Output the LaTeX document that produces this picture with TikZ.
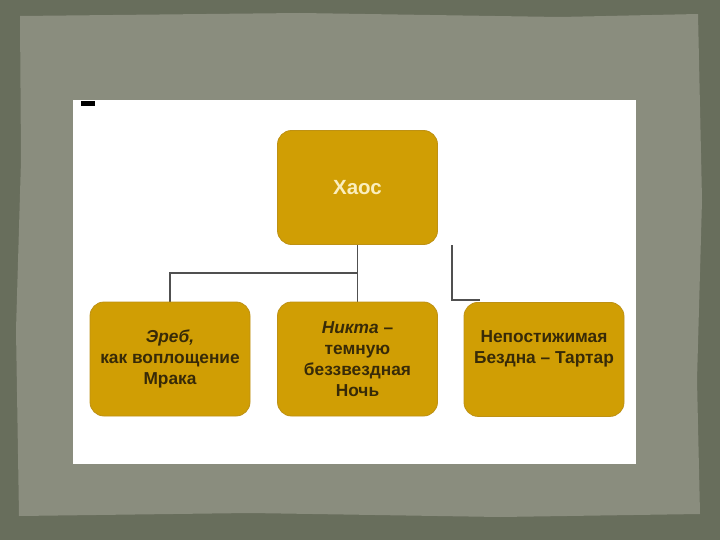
\documentclass[tikz,border=0pt]{standalone}
\usepackage{fontspec}
\setmainfont{Liberation Sans}
\definecolor{frameout}{RGB}{104,110,92}
\definecolor{panel}{RGB}{138,141,126}
\definecolor{gold}{RGB}{208,158,4}
\definecolor{goldedge}{RGB}{190,145,20}
\definecolor{darktxt}{RGB}{55,42,8}
\definecolor{lighttxt}{RGB}{250,238,190}
\definecolor{linegray}{RGB}{80,80,80}
\begin{document}
\begin{tikzpicture}[x=1pt,y=-1pt,
  box/.style={draw=goldedge,line width=0.8pt,fill=gold,rounded corners=14pt,
    minimum width=160pt,minimum height=114pt,align=center,font=\bfseries\fontsize{17.3}{21}\selectfont,text=darktxt},
  link/.style={draw=linegray,line width=1.5pt}]
\useasboundingbox (0,0) rectangle (720,540);
\fill[frameout] (0,0) rectangle (720,540);
\fill[panel] (20,16) -- (300,13) -- (560,17) -- (698,14) -- (702,200) -- (697,380) -- (700,514) -- (500,517) -- (250,513) -- (19,516) -- (16,330) -- (21,160) -- cycle;
\fill[white] (73,100) rectangle (636,464);
\fill[black] (81,101) rectangle (95,106);
\coordinate (j) at (357.5,273);
\coordinate (tr) at (480,300);
\draw[link] (357.5,245) -- (j) -| (170,302);
\draw[link] (j) -- (357.5,302);
\draw[link] (452,245) |- (tr);
\node[box,text=lighttxt,font=\bfseries\fontsize{20.5}{22}\selectfont] (chaos) at (357.5,187.5) {Хаос};
\node[box] (ereb) at (170,359) {\textit{Эреб,}\\как воплощение\\Мрака};
\node[box] (nikta) at (357.5,359) {\textit{Никта} –\\темную\\беззвездная\\Ночь};
\node[box,anchor=north] (tartar) at (544,302) {};
\node[align=center,font=\bfseries\fontsize{17.3}{21}\selectfont,text=darktxt] (tartartxt) at (544,348.5) {Непостижимая\\Бездна – Тартар};
\end{tikzpicture}
\end{document}
